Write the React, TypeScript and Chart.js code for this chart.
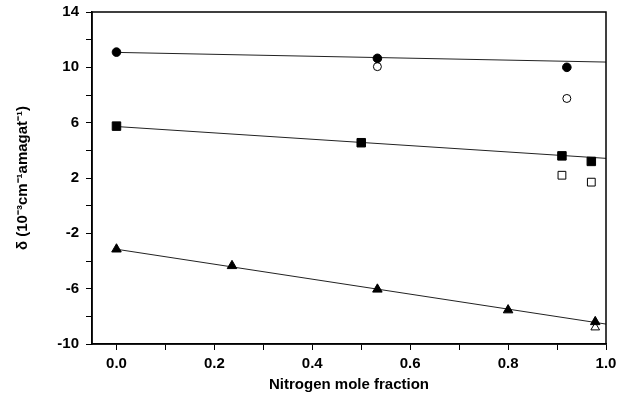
import React, { useEffect, useRef } from 'react';
import { Chart, registerables } from 'chart.js';

Chart.register(...registerables);

// Filled / open circles
const circleFilledX = [0.0, 0.533, 0.92];
const circleFilledY = [11.1, 10.65, 10.0];
const circleOpenX = [0.533, 0.92];
const circleOpenY = [10.05, 7.75];
// Filled / open squares
const squareFilledX = [0.0, 0.5, 0.91, 0.97];
const squareFilledY = [5.75, 4.55, 3.6, 3.2];
const squareOpenX = [0.91, 0.97];
const squareOpenY = [2.2, 1.7];
// Filled / open triangles
const triFilledX = [0.0, 0.236, 0.533, 0.8, 0.978];
const triFilledY = [-3.15, -4.35, -6.05, -7.55, -8.4];
const triOpenX = [0.978];
const triOpenY = [-8.8];
// Fitted lines
const fitX = [0.0, 1.0];
const circleFitY = [11.08, 10.38];
const squareFitY = [5.72, 3.42];
const triFitY = [-3.15, -8.56];

const xTickValues = [0.0, 0.1, 0.2, 0.3, 0.4, 0.5, 0.6, 0.7, 0.8, 0.9, 1.0];
const xTickLabels = ['0.0', '', '0.2', '', '0.4', '', '0.6', '', '0.8', '', '1.0'];
const yTickValues = [-10, -8, -6, -4, -2, 0, 2, 4, 6, 8, 10, 12, 14];
const yTickLabels = ['-10', '', '-6', '', '-2', '', '2', '', '6', '', '10', '', '14'];

const xTitle = 'Nitrogen mole fraction';
const yTitle = 'δ (10⁻³cm⁻¹amagat⁻¹)';

const pts = (xs: number[], ys: number[]) => xs.map((x, i) => ({ x, y: ys[i] }));

const framePlugin = {
  id: 'frame',
  afterDatasetsDraw(chart: any) {
    const { ctx, chartArea } = chart;
    ctx.save();
    ctx.strokeStyle = '#000';
    ctx.lineWidth = 1.5;
    ctx.strokeRect(chartArea.left, chartArea.top, chartArea.right - chartArea.left, chartArea.bottom - chartArea.top);
    ctx.restore();
  },
};

export default function App() {
  const ref = useRef<HTMLCanvasElement | null>(null);
  useEffect(() => {
    if (!ref.current) return;
    const font = { family: '"Liberation Sans", Arial, sans-serif', size: 15, weight: 'bold' as const };
    const lineDs = (ys: number[]) => ({
      type: 'line' as const,
      data: pts(fitX, ys),
      borderColor: '#222',
      borderWidth: 1,
      pointRadius: 0,
      fill: false,
      order: 10,
    });
    const markDs = (xs: number[], ys: number[], style: string, r: number, filled: boolean) => ({
      type: 'scatter' as const,
      data: pts(xs, ys),
      pointStyle: style,
      pointRadius: r,
      pointHoverRadius: r,
      backgroundColor: filled ? '#000' : '#fff',
      borderColor: '#000',
      borderWidth: 1,
      showLine: false,
      order: 0,
    });
    const chart = new Chart(ref.current, {
      type: 'scatter',
      data: {
        datasets: [
          lineDs(circleFitY) as any,
          lineDs(squareFitY) as any,
          lineDs(triFitY) as any,
          markDs(circleFilledX, circleFilledY, 'circle', 4.3, true),
          markDs(circleOpenX, circleOpenY, 'circle', 4, false),
          markDs(squareFilledX, squareFilledY, 'rect', 6, true),
          markDs(squareOpenX, squareOpenY, 'rect', 5.5, false),
          markDs(triFilledX, triFilledY, 'triangle', 5.5, true),
          markDs(triOpenX, triOpenY, 'triangle', 5, false),
        ],
      },
      options: {
        animation: false,
        responsive: false,
        maintainAspectRatio: false,
        events: [],
        layout: { padding: { top: 12, right: 11, left: 0, bottom: 0 } },
        plugins: { legend: { display: false }, tooltip: { enabled: false }, title: { display: false } },
        scales: {
          x: {
            type: 'linear',
            min: -0.05,
            max: 1.0,
            afterBuildTicks: (s: any) => { s.ticks = xTickValues.map((v) => ({ value: v })); },
            afterFit: (s: any) => { s.height = 60; s.paddingLeft = 0; s.paddingRight = 0; },
            ticks: {
              color: '#000',
              font,
              padding: 5,
              maxRotation: 0,
              autoSkip: false,
              callback: (_v: any, i: number) => xTickLabels[i],
            },
            grid: { drawOnChartArea: false, drawTicks: true, tickLength: 6, color: '#000', lineWidth: 1 },
            border: { display: true, color: '#000', width: 1.5 },
            title: { display: true, text: xTitle, color: '#000', font, padding: { top: 6, bottom: 10 } },
          },
          y: {
            type: 'linear',
            min: -10,
            max: 14,
            afterBuildTicks: (s: any) => { s.ticks = yTickValues.map((v) => ({ value: v })); },
            afterFit: (s: any) => { s.width = 92; s.paddingTop = 0; s.paddingBottom = 0; },
            ticks: {
              color: '#000',
              font,
              padding: 7,
              autoSkip: false,
              callback: (_v: any, i: number) => yTickLabels[i],
            },
            grid: { drawOnChartArea: false, drawTicks: true, tickLength: 6, color: '#000', lineWidth: 1 },
            border: { display: true, color: '#000', width: 1.5 },
            title: { display: true, text: yTitle, color: '#000', font, padding: { top: 14, bottom: 0 } },
          },
        },
      },
      plugins: [framePlugin],
    } as any);
    return () => chart.destroy();
  }, []);
  return (
    <div style={{ position: 'fixed', left: 0, top: 0, width: 617, height: 404, background: '#fff' }}>
      <canvas ref={ref} width={617} height={404} style={{ width: 617, height: 404, display: 'block' }} />
    </div>
  );
}
